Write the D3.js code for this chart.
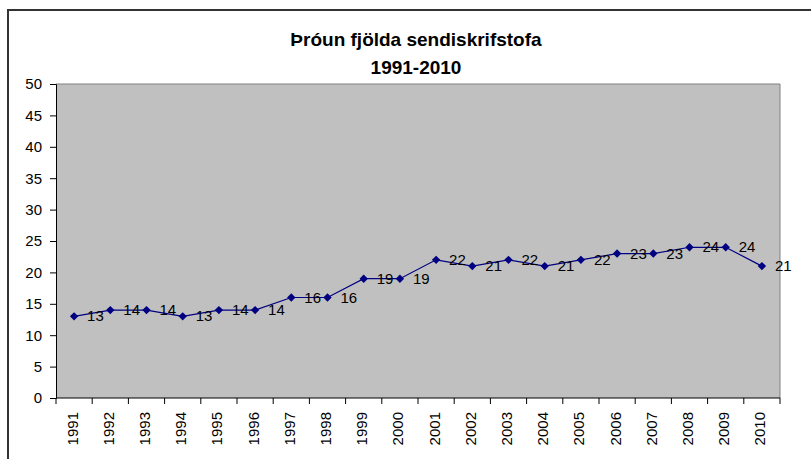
<!DOCTYPE html>
<html><head><meta charset="utf-8">
<script src="https://cdn.jsdelivr.net/npm/d3@7"></script>
<style>body{margin:0;background:#fff;} svg{display:block;font-family:"Liberation Sans",Arial,sans-serif;}</style>
</head><body>
<script>
const years = ["1991","1992","1993","1994","1995","1996","1997","1998","1999","2000","2001","2002","2003","2004","2005","2006","2007","2008","2009","2010"];
const values = [13,14,14,13,14,14,16,16,19,19,22,21,22,21,22,23,23,24,24,21];
const yTicks = [0,5,10,15,20,25,30,35,40,45,50];
const titleLines = ["Þróun fjölda sendiskrifstofa","1991-2010"];

const W = 811, H = 459;
const svg = d3.select("body").append("svg").attr("width", W).attr("height", H);

// outer border (top and left visible)
svg.append("path").attr("d", `M8,${H} L8,10 L${W},10`).attr("fill","none").attr("stroke","#333").attr("stroke-width",2);

const L = 56, R = 780, T = 84, B = 398;
const x = d3.scaleBand().domain(years).range([L, R]);
const y = d3.scaleLinear().domain([0, 50]).range([B, T]);

svg.append("rect").attr("x", L).attr("y", T).attr("width", R - L).attr("height", B - T)
  .attr("fill", "#c0c0c0");
svg.append("path").attr("d", `M${L},${T} L${R},${T} L${R},${B}`).attr("fill","none").attr("stroke","#808080").attr("stroke-width",1);

// title
svg.selectAll("text.title").data(titleLines).enter().append("text")
  .attr("class","title").attr("x", 416).attr("y", (d,i) => 46 + i*28)
  .attr("text-anchor","middle").attr("font-weight","bold").attr("font-size", 19).attr("fill","#000")
  .text(d => d);

// y axis
const yAxis = d3.axisLeft(y).tickValues(yTicks).tickSize(6).tickPadding(8);
const gy = svg.append("g").attr("transform", `translate(${L},0)`).call(yAxis);
gy.select(".domain").attr("stroke","#000");
gy.selectAll(".tick line").attr("stroke","#000");
gy.selectAll(".tick text").attr("font-size", 15).attr("fill","#000").attr("font-family","Liberation Sans, Arial, sans-serif");

// x axis: ticks at category boundaries
const gx = svg.append("g").attr("transform", `translate(0,${B})`);
gx.append("line").attr("x1", L).attr("x2", R).attr("y1", 0).attr("y2", 0).attr("stroke","#000");
const bounds = years.map(d => x(d)).concat([R]);
gx.selectAll("line.tk").data(bounds).enter().append("line").attr("class","tk")
  .attr("x1", d => d).attr("x2", d => d).attr("y1", 0).attr("y2", 6).attr("stroke","#000");
gx.selectAll("text.yr").data(years).enter().append("text").attr("class","yr")
  .attr("transform", d => `translate(${x(d) + x.bandwidth()/2 + 3.5},14) rotate(-90)`)
  .attr("text-anchor","end").attr("font-size", 15).attr("fill","#000")
  .text(d => d);

// line
const cx = (d,i) => x(years[i]) + x.bandwidth()/2;
const line = d3.line().x((d,i) => cx(d,i)).y(d => y(d));
svg.append("path").datum(values).attr("d", line).attr("fill","none").attr("stroke","#000080").attr("stroke-width",1.2);

// markers
svg.selectAll("path.mk").data(values).enter().append("path").attr("class","mk")
  .attr("d", d3.symbol().type(d3.symbolDiamond2).size(45))
  .attr("transform", (d,i) => `translate(${cx(d,i)},${y(d)})`)
  .attr("fill","#000080");

// data labels
svg.selectAll("text.lbl").data(values).enter().append("text").attr("class","lbl")
  .attr("x", (d,i) => cx(d,i) + 13).attr("y", d => y(d) + 5)
  .attr("font-size", 15).attr("fill","#000").text(d => d);
</script>
</body></html>
